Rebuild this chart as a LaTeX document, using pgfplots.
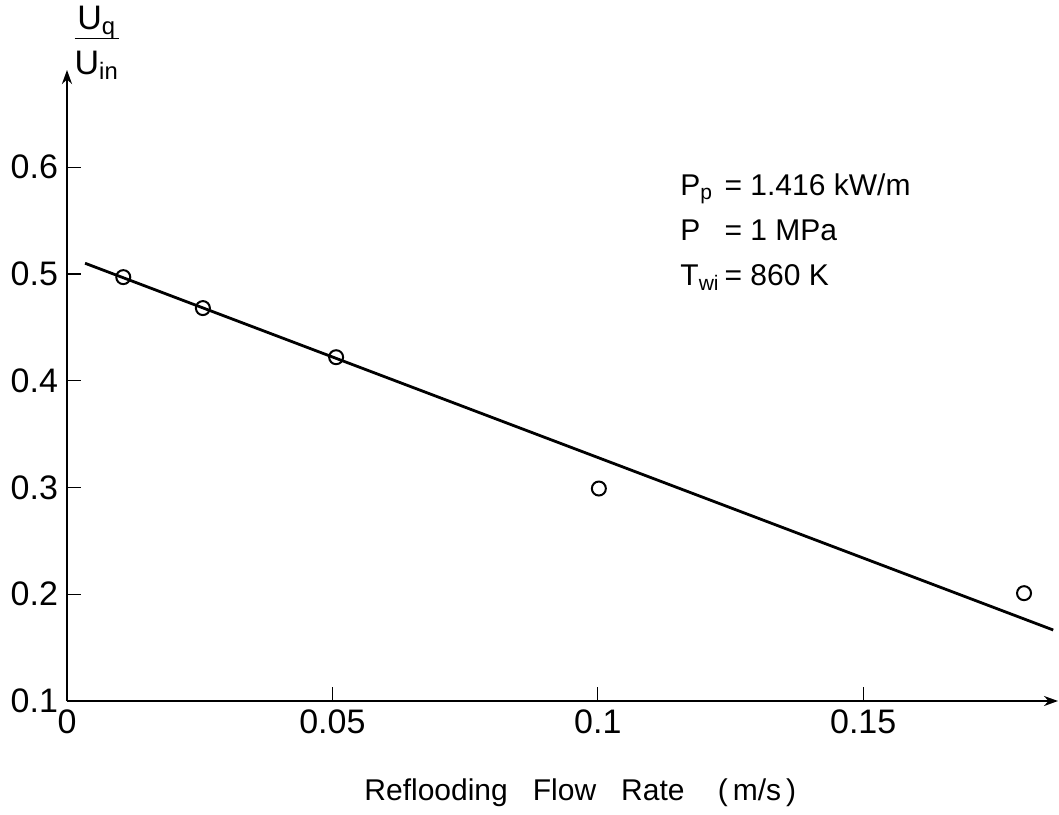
\documentclass[border=0pt]{standalone}
\usepackage{pgfplots}
\pgfplotsset{compat=1.18}
\usetikzlibrary{arrows.meta}
\usepackage{fontspec}
\setmainfont{Liberation Sans}
\newcommand\fs{\fontsize{15}{18}\selectfont}
\newcommand\fst{\fontsize{17}{20}\selectfont}
\begin{document}
\begin{tikzpicture}[x=0.5pt,y=0.5pt]
\begin{axis}[
  at={(0,0)}, anchor=south west,
  scale only axis,
  width=495.5pt, height=315.5pt,
  axis lines=left,
  axis line style={line width=1.4pt, -{Stealth[length=7pt,width=5pt]}},
  xmin=0, xmax=0.1867, ymin=0.1, ymax=0.691,
  xtick={0,0.05,0.1,0.15}, xticklabels={0,0.05,0.1,0.15},
  ytick={0.1,0.2,0.3,0.4,0.5,0.6}, yticklabels={0.1,0.2,0.3,0.4,0.5,0.6},
  tick align=inside, major tick length=7pt,
  tick style={line width=0.6pt, black},
  tick label style={font=\fst},
  xticklabel style={yshift=-1pt},
  yticklabel style={xshift=-1pt},
  xlabel={Reflooding\ \ \ Flow\ \ \ Rate\ \ \ \ (\,m/s\,)},
  xlabel style={font=\fs, at={(axis description cs:0.518,-0.145)}, anchor=center},
  ylabel={\begin{tabular}{@{}c@{}}U\textsubscript{q}\\[-2pt]\hline\rule{0pt}{18pt}U\textsubscript{in}\end{tabular}},
  ylabel style={font=\fst, rotate=-90, at={(axis description cs:0.030,1.041)}, anchor=center},
  clip=false,
]
\addplot[black, line width=1.4pt] coordinates {(0.0034,0.510) (0.1858,0.1665)};
\addplot[only marks, mark=o, mark size=3.5pt, mark options={line width=1pt, fill=white, draw=black}] coordinates {
(0.0106,0.497) (0.0256,0.468) (0.0507,0.422) (0.1002,0.299) (0.1803,0.201)};
\node[anchor=north west, inner sep=0pt, font=\fs, align=left] at (axis cs:0.1155,0.5975)
{\begin{tabular}{@{}l@{\,}l@{}}
P\textsubscript{p} & = 1.416 kW/m\\[4.5pt]
P & = 1 MPa\\[4.5pt]
T\textsubscript{wi} & = 860 K
\end{tabular}};
\end{axis}
\pgfresetboundingbox
\path[use as bounding box] (-67,-113) rectangle (992,701);
\end{tikzpicture}
\end{document}
